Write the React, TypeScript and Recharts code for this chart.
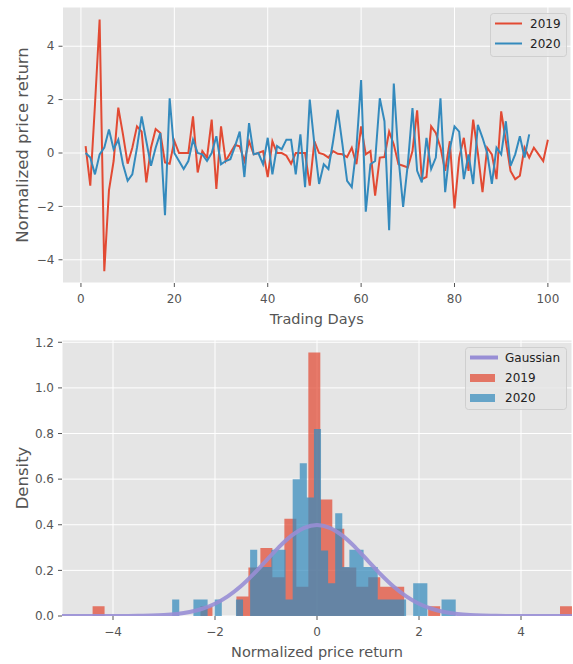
import React from 'react';
import { LineChart, Line, XAxis, YAxis, CartesianGrid, ComposedChart, Area, Label } from 'recharts';

// ---------- Top chart data (normalized price return per trading day) ----------
const returns2019 = [
  0.26, -1.22, 1.8, 5.0, -4.43, -1.4, -0.3, 1.7, 0.7, -0.4,
  0.2, 1.0, 0.8, -1.1, 0.2, 0.9, 0.75, -0.35, -0.4, 0.45,
  0.0, 0.0, 0.0, 1.37, -0.73, 0.07, -0.17, 1.25, -1.35, 1.0,
  -0.3, 0.0, 0.3, 0.25, -0.3, 0.44, -0.05, 0.0, 0.07, -0.9,
  0.44, 0.0, 0.0, -0.1, -0.4, 0.0, 0.0, 0.0, -1.22, 0.44,
  0.0, -0.05, -0.17, 0.07, -0.03, -0.05, -0.15, 0.2, -0.42, 1.0,
  -0.05, 0.07, -1.6, -0.17, -0.15, 0.8, 0.32, -0.42, -0.48, -0.54,
  0.07, 1.6, -0.98, -0.9, 1.0, 0.75, 0.2, -0.67, 0.44, -2.08,
  -0.17, 0.57, -0.67, 1.25, 0.0, -1.47, 0.2, -0.05, -0.98, 1.56,
  0.44, -0.67, -0.98, -0.85, 0.2, -0.17, 0.2, -0.05, -0.3, 0.5,
];
const returns2020 = [
  0.0, -0.17, -0.8, -0.05, 0.2, 0.88, 0.14, 0.5, -0.42, -1.04,
  -0.8, 0.2, 1.37, 0.44, -0.48, 0.2, 0.75, -2.33, 2.05, 0.0,
  -0.3, -0.6, -0.3, 0.5, 0.0, -0.05, -0.3, 0.0, 0.63, -0.42,
  -0.3, -0.23, 0.26, 0.8, -0.9, 1.12, -0.05, 0.0, -0.42, 0.57,
  -0.8, 0.26, 0.14, 0.5, 0.5, -0.8, 0.7, -1.28, 2.0, 0.32,
  -1.16, -0.42, -0.6, 0.44, 1.62, 0.32, -1.04, -1.28, 0.2, 2.73,
  -2.2, -0.42, -0.3, 2.05, 1.19, -2.89, 2.6, -0.17, -2.02, -0.42,
  1.68, -0.67, -1.1, 0.57, -0.6, -0.17, 2.05, -1.47, 0.14, 1.0,
  0.8, -0.98, -0.05, -1.16, 1.06, 0.57, 0.0, -1.16, 0.2, -0.05,
  1.19, -0.48, -0.05, 0.63, -0.17, 0.7,
];
const topXTicks = [0, 20, 40, 60, 80, 100];
const topYTicks = [-4, -2, 0, 2, 4];

// ---------- Bottom chart data (histogram densities) ----------
const bins2019Start = -4.4;
const bins2019Width = 0.235;
const density2019 = [
  0.043, 0, 0, 0, 0, 0, 0, 0, 0, 0.043,
  0, 0, 0.085, 0.213, 0.298, 0.17, 0.426, 0.128, 1.155, 0.511,
  0.383, 0.213, 0.128, 0.17, 0.128, 0.128, 0, 0, 0.043, 0,
  0, 0, 0, 0, 0, 0, 0, 0, 0, 0.043,
];
const bins2020Start = -2.84;
const bins2020Width = 0.139;
const density2020 = [
  0.072, 0, 0, 0.072, 0.072, 0, 0.072, 0, 0, 0.072,
  0, 0.29, 0.215, 0.215, 0.29, 0.29, 0.072, 0.6, 0.67, 0.52,
  0.82, 0.287, 0.144, 0.45, 0.215, 0.29, 0.29, 0.215, 0.215, 0.072,
  0.072, 0.072, 0.072, 0, 0.144, 0.144, 0, 0, 0.072, 0.072,
];
const gaussX = [
  -5, -4.75, -4.5, -4.25, -4, -3.75, -3.5, -3.25, -3, -2.75, -2.5, -2.25, -2, -1.75, -1.5, -1.25, -1, -0.75, -0.5, -0.25,
  0, 0.25, 0.5, 0.75, 1, 1.25, 1.5, 1.75, 2, 2.25, 2.5, 2.75, 3, 3.25, 3.5, 3.75, 4, 4.25, 4.5, 4.75, 5,
];
const gaussY = [
  0, 0, 0, 0, 0.0001, 0.0004, 0.0009, 0.002, 0.0044, 0.0091, 0.0175, 0.0317, 0.054, 0.0863, 0.1295, 0.1826, 0.242, 0.3011, 0.3521, 0.3867,
  0.3989, 0.3867, 0.3521, 0.3011, 0.242, 0.1826, 0.1295, 0.0863, 0.054, 0.0317, 0.0175, 0.0091, 0.0044, 0.002, 0.0009, 0.0004, 0.0001, 0, 0, 0, 0,
];
const bottomXTicks = [-4, -2, 0, 2, 4];
const bottomYTicks = [0, 0.2, 0.4, 0.6, 0.8, 1.0, 1.2];

// ---------- build tables ----------
const lineData = returns2019.map((v, i) => ({
  day: i + 1,
  y2019: v,
  y2020: i < returns2020.length ? returns2020[i] : null,
}));

const edges = (start: number, width: number, n: number) =>
  Array.from({ length: n + 1 }, (_, i) => +(start + width * i).toFixed(6));

const densityAt = (x: number, start: number, width: number, d: number[]) => {
  const idx = Math.floor((x - start) / width + 1e-7);
  if (idx < 0 || idx >= d.length) return 0;
  return d[idx];
};

const xs = Array.from(
  new Set([
    ...edges(bins2019Start, bins2019Width, density2019.length),
    ...edges(bins2020Start, bins2020Width, density2020.length),
    ...gaussX,
  ])
).sort((a, b) => a - b);

const histData = xs.map((x) => {
  const gi = gaussX.findIndex((g) => Math.abs(g - x) < 1e-9);
  return {
    x,
    h2019: densityAt(x, bins2019Start, bins2019Width, density2019),
    h2020: densityAt(x, bins2020Start, bins2020Width, density2020),
    gauss: gi >= 0 ? gaussY[gi] : null,
  };
});

// ---------- styles ----------
const FONT = 'DejaVu Sans, sans-serif';
const RED = '#E24A33';
const BLUE = '#348ABD';
const PURPLE = '#988ED5';
const BG = '#E5E5E5';
const tickStyle = { fontSize: 12, fill: '#555555', fontFamily: FONT };
const minus = (v: number) => String(v).replace('-', '\u2212');

const xTitle = (text: string) => (props: any) => {
  const vb = props.viewBox || {};
  return (
    <text
      x={vb.x + vb.width / 2}
      y={vb.y + 41}
      textAnchor="middle"
      fontSize={14.5}
      fill="#555555"
      fontFamily={FONT}
    >
      {text}
    </text>
  );
};
const yTitle = (text: string) => (props: any) => {
  const vb = props.viewBox || {};
  const cx = 22;
  const cy = vb.y + vb.height / 2;
  return (
    <text
      x={cx}
      y={cy}
      transform={`rotate(-90, ${cx}, ${cy})`}
      textAnchor="middle"
      dominantBaseline="central"
      fontSize={16.5}
      fill="#555555"
      fontFamily={FONT}
    >
      {text}
    </text>
  );
};

const legendBox = { fill: 'rgba(229,229,229,0.8)', stroke: 'rgba(204,204,204,0.9)' };

export default function App() {
  return (
    <div style={{ position: 'absolute', left: 0, top: 0, width: 573, height: 664, background: '#ffffff', fontFamily: FONT }}>
      <div style={{ position: 'absolute', left: 0, top: 0 }}>
        <LineChart width={573} height={335} data={lineData} margin={{ top: 7, right: 2, bottom: 22, left: 12.5 }}>
          <CartesianGrid fill={BG} stroke="#ffffff" strokeWidth={1} />
          <XAxis
            dataKey="day"
            type="number"
            domain={[-3.95, 104.95]}
            ticks={topXTicks}
            allowDataOverflow
            axisLine={false}
            tickLine={{ stroke: '#555555' }}
            tickSize={4}
            tickMargin={7}
            tick={tickStyle}
            height={30}
            label={<Label content={xTitle('Trading Days')} />}
          />
          <YAxis
            type="number"
            domain={[-4.87, 5.47]}
            ticks={topYTicks}
            allowDataOverflow
            axisLine={false}
            tickLine={{ stroke: '#555555' }}
            tickSize={4}
            tickMargin={4}
            tick={tickStyle}
            tickFormatter={minus}
            width={50}
            label={<Label content={yTitle('Normalized price return')} />}
          />
          <Line dataKey="y2019" stroke={RED} strokeWidth={2} dot={false} activeDot={false} isAnimationActive={false} type="linear" />
          <Line dataKey="y2020" stroke={BLUE} strokeWidth={2} dot={false} activeDot={false} isAnimationActive={false} type="linear" />
        </LineChart>
      </div>

      <svg style={{ position: 'absolute', left: 490, top: 13 }} width={78} height={45}>
        <rect x={0.5} y={0.5} width={76} height={43} rx={3} {...legendBox} />
        <line x1={5} x2={32} y1={10.5} y2={10.5} stroke={RED} strokeWidth={2} />
        <line x1={5} x2={32} y1={30.5} y2={30.5} stroke={BLUE} strokeWidth={2} />
        <text x={40} y={10.5} dominantBaseline="central" fontSize={12} fill="#222" fontFamily={FONT}>2019</text>
        <text x={40} y={30.5} dominantBaseline="central" fontSize={12} fill="#222" fontFamily={FONT}>2020</text>
      </svg>

      <div style={{ position: 'absolute', left: 0, top: 335 }}>
        <ComposedChart width={573} height={329} data={histData} margin={{ top: 5, right: 1, bottom: 18, left: 12 }}>
          <CartesianGrid fill={BG} stroke="#ffffff" strokeWidth={1} />
          <XAxis
            dataKey="x"
            type="number"
            domain={[-5, 5]}
            ticks={bottomXTicks}
            allowDataOverflow
            axisLine={false}
            tickLine={{ stroke: '#555555' }}
            tickSize={4}
            tickMargin={7}
            tick={tickStyle}
            tickFormatter={minus}
            height={30}
            label={<Label content={xTitle('Normalized price return')} />}
          />
          <YAxis
            type="number"
            domain={[0, 1.21]}
            ticks={bottomYTicks}
            allowDataOverflow
            axisLine={false}
            tickLine={{ stroke: '#555555' }}
            tickSize={4}
            tickMargin={4}
            tick={tickStyle}
            tickFormatter={(v: number) => v.toFixed(1)}
            width={50}
            label={<Label content={yTitle('Density')} />}
          />
          <Area dataKey="h2019" type="stepAfter" stroke="none" fill={RED} fillOpacity={0.72} dot={false} activeDot={false} isAnimationActive={false} />
          <Area dataKey="h2020" type="stepAfter" stroke="none" fill={BLUE} fillOpacity={0.72} dot={false} activeDot={false} isAnimationActive={false} />
          <Line dataKey="gauss" type="monotone" connectNulls stroke={PURPLE} strokeOpacity={0.9} strokeWidth={4} dot={false} activeDot={false} isAnimationActive={false} />
        </ComposedChart>
      </div>

      <svg style={{ position: 'absolute', left: 465, top: 347 }} width={103} height={64}>
        <rect x={0.5} y={0.5} width={101} height={62} rx={3} {...legendBox} />
        <line x1={5} x2={33} y1={10.5} y2={10.5} stroke={PURPLE} strokeWidth={4} />
        <rect x={5} y={27} width={25} height={8} fill={RED} fillOpacity={0.72} />
        <rect x={5} y={47} width={25} height={8} fill={BLUE} fillOpacity={0.72} />
        <text x={40} y={11} dominantBaseline="central" fontSize={12} fill="#222" fontFamily={FONT}>Gaussian</text>
        <text x={40} y={31} dominantBaseline="central" fontSize={12} fill="#222" fontFamily={FONT}>2019</text>
        <text x={40} y={51} dominantBaseline="central" fontSize={12} fill="#222" fontFamily={FONT}>2020</text>
      </svg>
    </div>
  );
}
